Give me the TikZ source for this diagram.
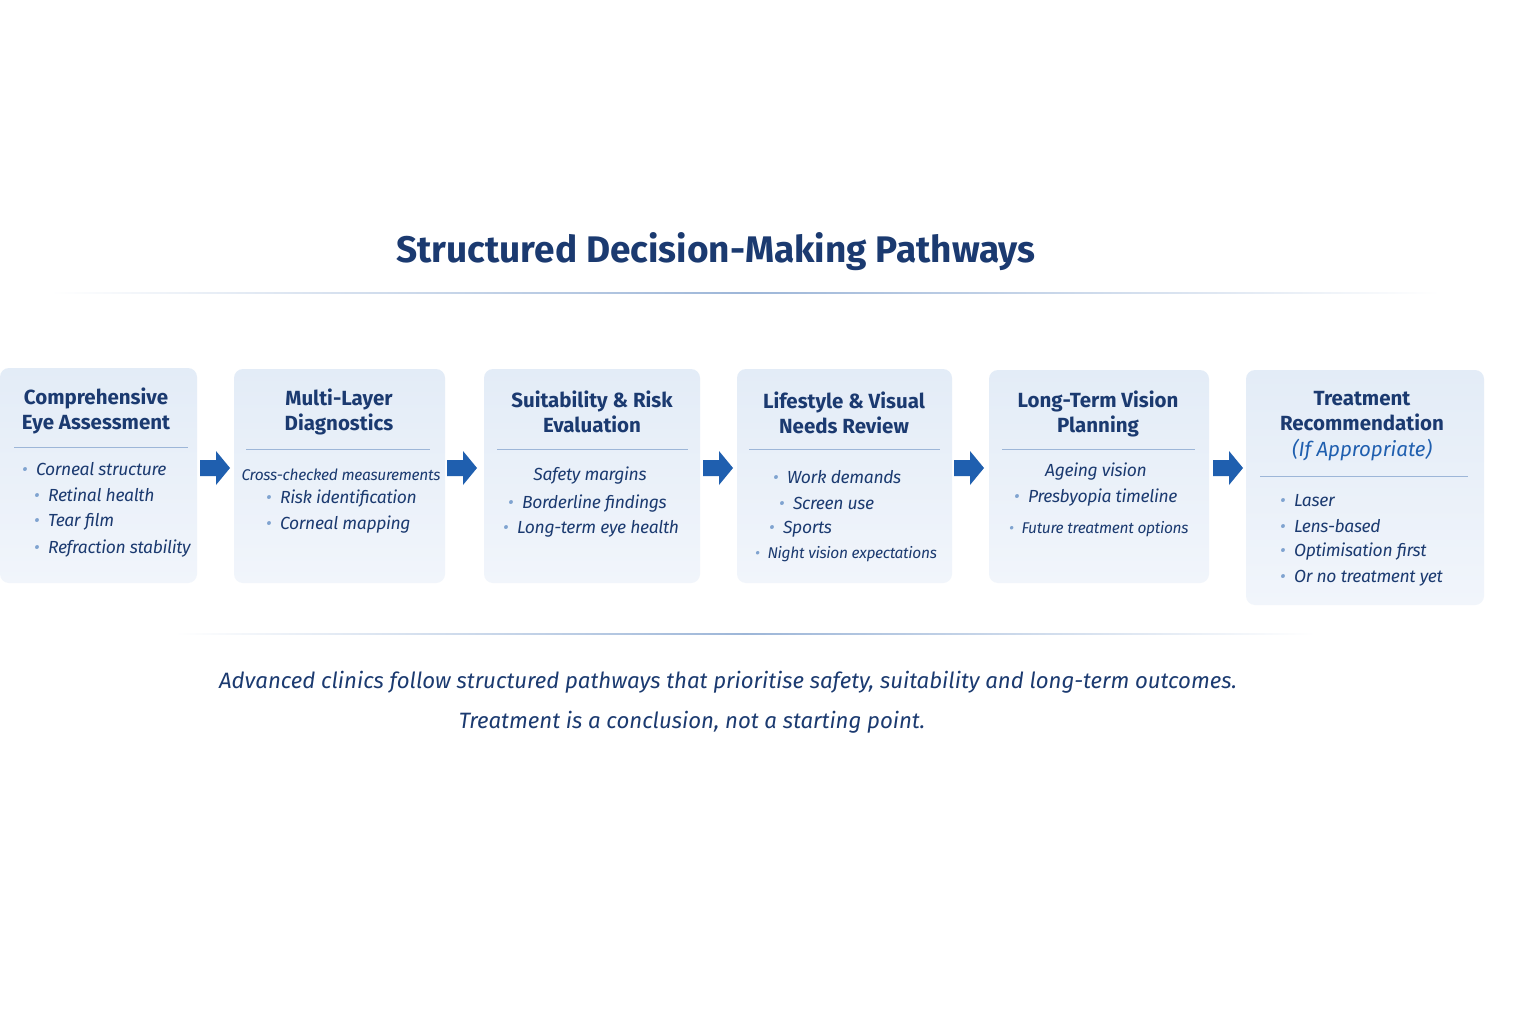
\documentclass[tikz,border=0pt]{standalone}
\usepackage{fontspec}
\setmainfont{Fira Sans}
\usetikzlibrary{positioning}
\definecolor{navy}{HTML}{1B3A70}
\definecolor{bul}{HTML}{7FA3D0}
\definecolor{boxa}{HTML}{E3ECF7}
\definecolor{boxb}{HTML}{F1F5FB}
\definecolor{arr}{HTML}{1F5FAF}
\definecolor{sep}{HTML}{9DB6D8}
\tikzset{
 box/.style={draw=none,rounded corners=9pt,top color=boxa,bottom color=boxb},
 head/.style={font=\fontsize{20.5}{25.5}\selectfont\bfseries,text=navy,align=center},
 item/.style={font=\fontsize{17.5}{20}\selectfont\itshape\addfontfeature{LetterSpace=-2},text=navy,anchor=west,inner sep=0pt},
 citem/.style={font=\fontsize{17.5}{20}\selectfont\itshape\addfontfeature{LetterSpace=-2},text=navy,inner sep=0pt},
 sitem/.style={font=\fontsize{15.5}{18}\selectfont\itshape\addfontfeature{LetterSpace=-2},text=navy,inner sep=0pt},
 sepl/.style={draw=sep,line width=0.8pt},
}
\newcommand{\bu}{{\color{bul}\textbullet}\ \ }
\newcommand{\arrowat}[2]{\fill[arr] (#1-14,-#2+8) -- (#1+2,-#2+8) -- (#1+2,-#2+17) -- (#1+16,-#2) -- (#1+2,-#2-17) -- (#1+2,-#2-8) -- (#1-14,-#2-8) -- cycle;}
\begin{document}
\begin{tikzpicture}[x=1pt,y=1pt]
\useasboundingbox (0,0) rectangle (1536,-1024);
\fill[white] (0,0) rectangle (1536,-1024);
\node[font=\fontsize{37}{42}\selectfont\bfseries,text=navy] (title) at (716,-252) {Structured Decision-Making Pathways};
\shade[left color=white,right color=white,middle color=sep] (50,-292.5) rectangle (1440,-293.5);
\shade[left color=white,right color=white,middle color=sep] (175,-633) rectangle (1315,-634.5);
% boxes
\path[box] (0,-368) rectangle (197,-583);
\path[box] (234,-369) rectangle (445,-583);
\path[box] (484,-369) rectangle (700,-583);
\path[box] (737,-369) rectangle (952,-583);
\path[box] (989,-370) rectangle (1209,-583);
\path[box] (1246,-370) rectangle (1484,-605);
% headings
\node[head] (h1) at (96,-411) {Comprehensive\\Eye Assessment};
\node[head] (h2) at (339,-412) {Multi-Layer\\Diagnostics};
\node[head] (h3) at (592,-412) {Suitability \& Risk\\Evaluation};
\node[head] (h4) at (844,-413) {Lifestyle \& Visual\\Needs Review};
\node[head] (h5) at (1098,-414) {Long-Term Vision\\Planning};
\node[head] (h6) at (1362,-426) {Treatment\\Recommendation\\{\color{arr}\mdseries\itshape (If Appropriate)}};
\draw[sepl] (14,-447) -- (188,-447);
\draw[sepl] (246,-449) -- (430,-449);
\draw[sepl] (497,-449) -- (688,-449);
\draw[sepl] (749,-449) -- (940,-449);
\draw[sepl] (1002,-449) -- (1195,-449);
\draw[sepl] (1260,-476) -- (1468,-476);
% items
\node[item] (a1) at (22,-469) {\bu Corneal structure};
\node[item] (a2) at (34,-495) {\bu Retinal health};
\node[item] (a3) at (34,-522) {\bu Tear film};
\node[item] (a4) at (34,-549) {\bu Refraction stability};
\node[sitem] (b1) at (341,-475) {Cross-checked measurements};
\node[item] (b2) at (266,-499) {\bu Risk identification};
\node[item] (b3) at (266,-525) {\bu Corneal mapping};
\node[citem] (c1) at (590,-476) {Safety margins};
\node[item] (c2) at (508,-504) {\bu Borderline findings};
\node[item] (c3) at (503,-529) {\bu Long-term eye health};
\node[item] (d1) at (773,-477) {\bu Work demands};
\node[item] (d2) at (779,-503) {\bu Screen use};
\node[item] (d3) at (769,-529) {\bu Sports};
\node[sitem,anchor=west] (d4) at (755,-554) {\bu Night vision expectations};
\node[citem] (e1) at (1096,-472) {Ageing vision};
\node[item] (e2) at (1014,-498) {\bu Presbyopia timeline};
\node[sitem,anchor=west] (e3) at (1009,-529) {\bu Future treatment options};
\node[item] (f1) at (1280,-501) {\bu Laser};
\node[item] (f2) at (1280,-526) {\bu Lens-based};
\node[item] (f3) at (1280,-552) {\bu Optimisation first};
\node[item] (f4) at (1280,-578) {\bu Or no treatment yet};
% arrows
\arrowat{214}{468}
\arrowat{461}{468}
\arrowat{717}{468}
\arrowat{968}{468}
\arrowat{1227}{468}
% caption
\node[font=\fontsize{22.2}{27}\selectfont\itshape,text=navy] (cap1) at (728,-682) {Advanced clinics follow structured pathways that prioritise safety, suitability and long-term outcomes.};
\node[font=\fontsize{22.2}{27}\selectfont\itshape,text=navy] (cap2) at (692,-722) {Treatment is a conclusion, not a starting point.};
\end{tikzpicture}
\end{document}
